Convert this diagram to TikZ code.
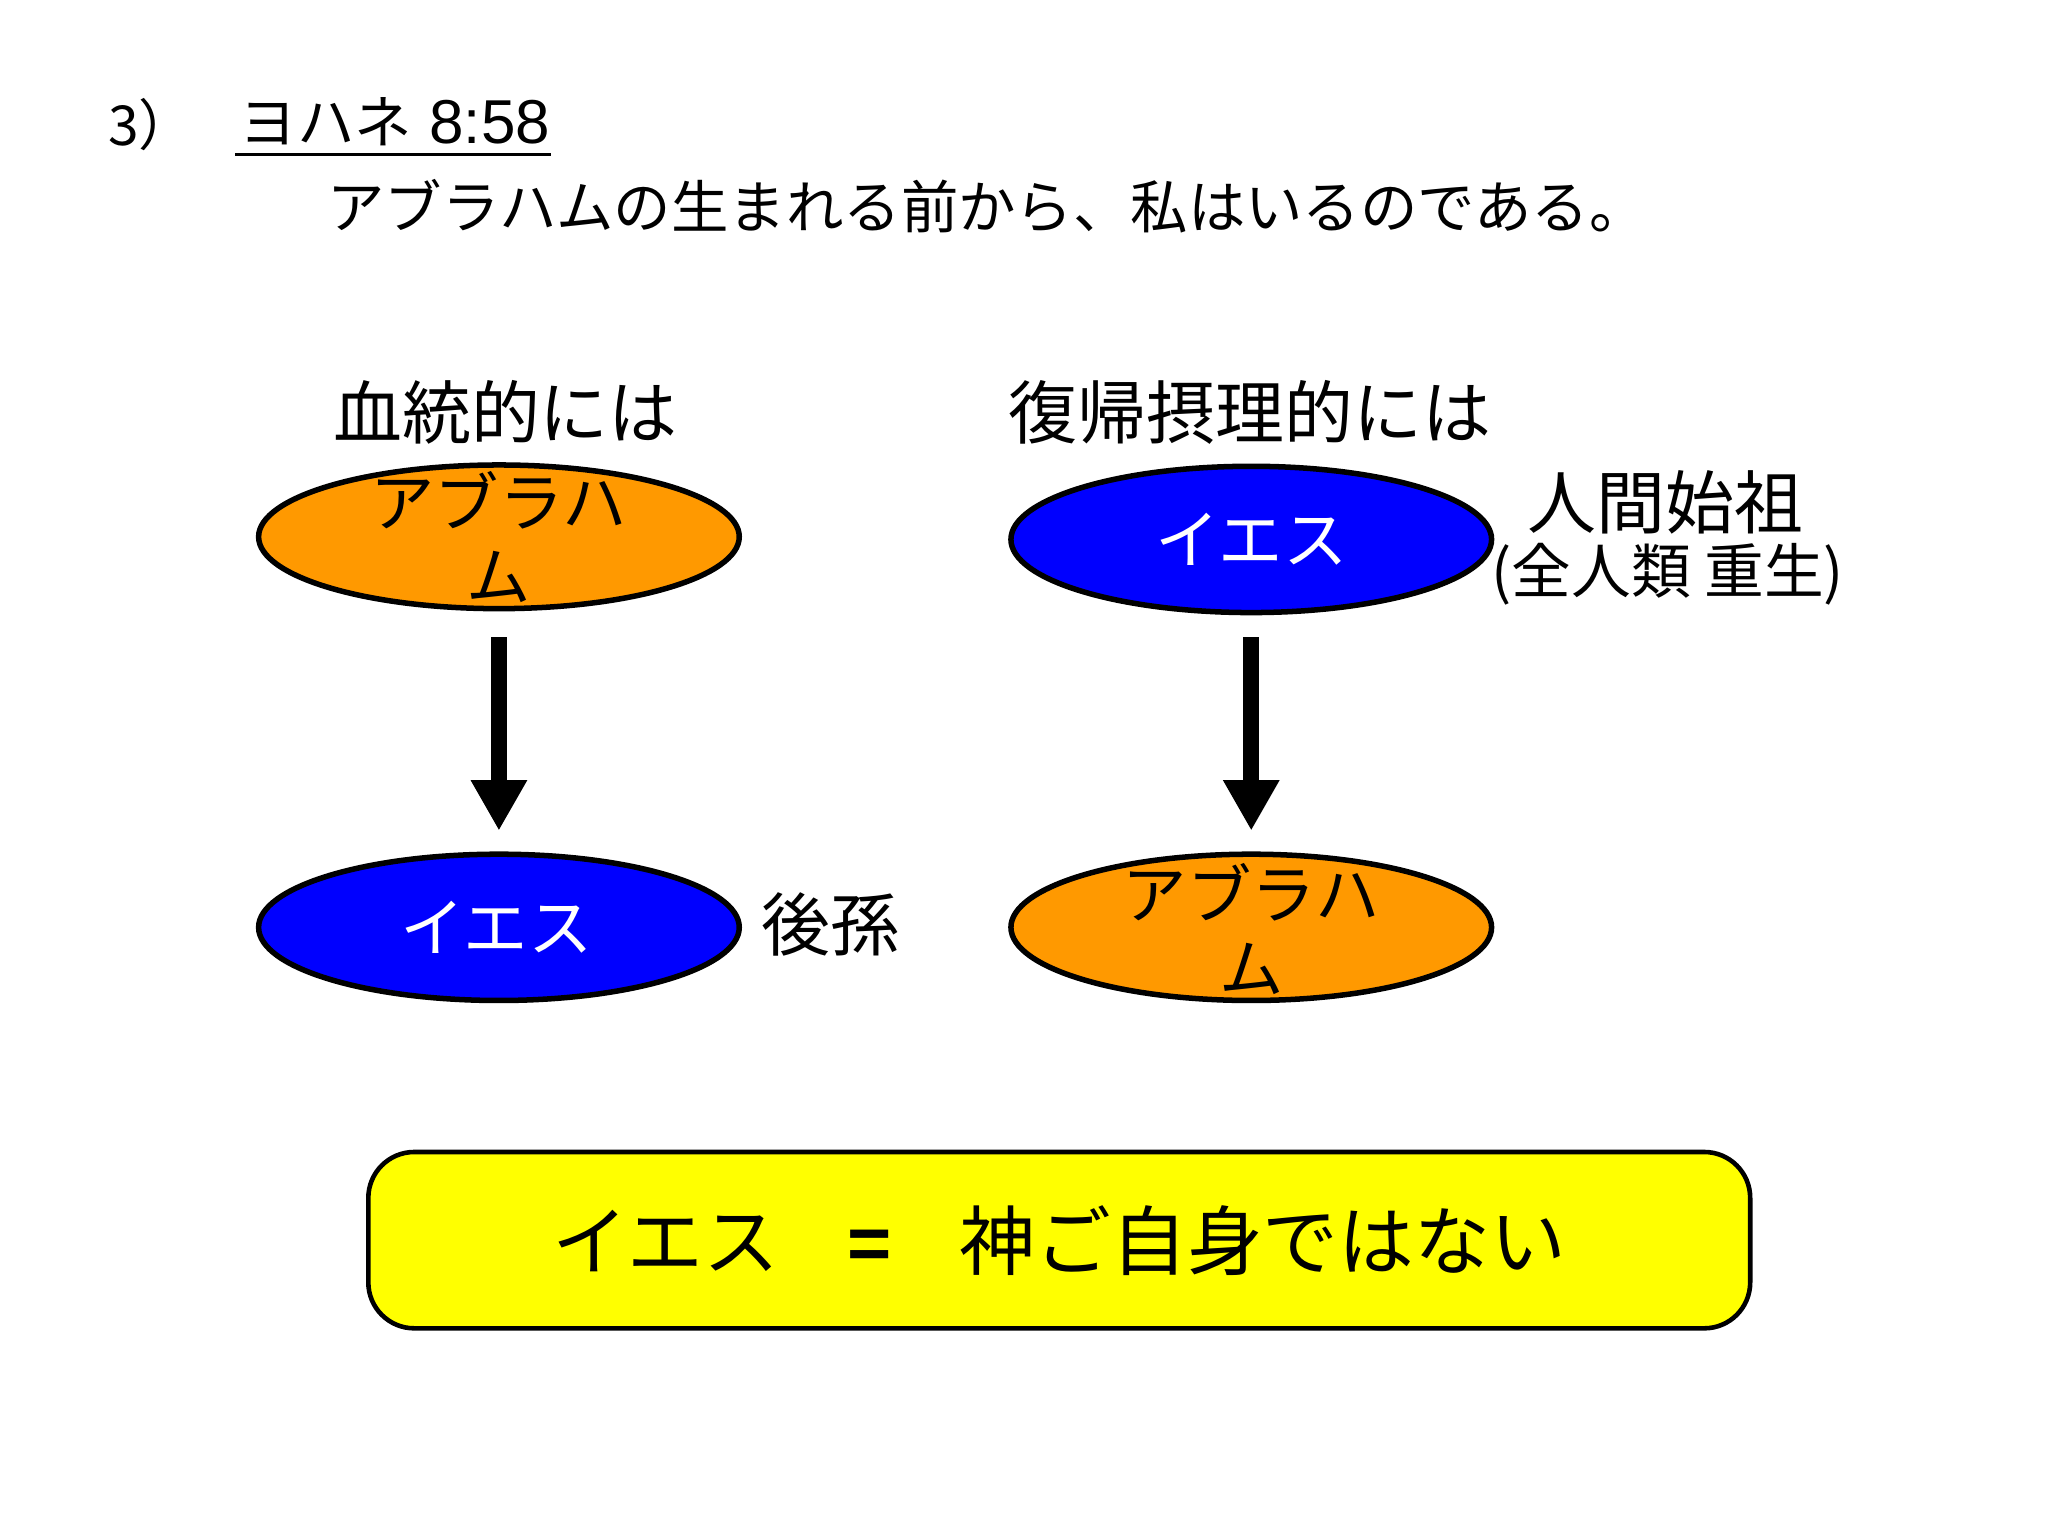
\documentclass[tikz,border=0pt]{standalone}
\usepackage{fontspec}
\setmainfont{Liberation Sans}
\newfontfamily\jp{Noto Sans CJK JP}
\usetikzlibrary{arrows.meta}
\begin{document}
\begin{tikzpicture}[x=0.01cm,y=-0.01cm,
  orangeell/.style={draw=black,line width=1.2pt,fill=orange1},
  blueell/.style={draw=black,line width=1.2pt,fill=blue1},
  bigarrow/.style={line width=3.4pt,-{Triangle[width=11.5pt,length=11pt]}},
  lbl/.style={font=\jp\fontsize{15}{16}\selectfont,inner sep=0pt},
  elltext/.style={font=\jp\fontsize{14}{15}\selectfont,inner sep=0pt}]
\definecolor{orange1}{HTML}{FF9900}
\definecolor{blue1}{HTML}{0000FF}
\definecolor{yellow1}{HTML}{FFFF00}
\useasboundingbox (0,0) rectangle (1568,1176);
% header
\node[anchor=west,font=\jp\fontsize{12}{13}\selectfont,inner sep=0pt] (num) at (82,95) {3）};
\node[anchor=west,font=\jp\fontsize{12.5}{13}\selectfont,inner sep=0pt] (ref) at (183,93) {ヨハネ\hspace{0.3em}{\fontspec{Liberation Sans}\fontsize{13.5}{14}\selectfont 8:58}};
\draw[line width=0.6pt] (ref.south west) ++(-3,6) coordinate (u1) -- (u1 -| ref.south east);
\node[anchor=west,font=\jp\fontsize{12.5}{13}\selectfont,inner sep=0pt] (sub) at (250,158) {アブラハムの生まれる前から、私はいるのである。};
% headings
\node[lbl] (h1) at (387,316) {血統的には};
\node[lbl] (h2) at (957,316) {復帰摂理的には};
% ellipses
\draw[orangeell] (382,411) ellipse [x radius=184,y radius=55];
\node[elltext] (t1a) at (382,383) {アブラハ};
\node[elltext] (t1b) at (382,442) {ム};
\draw[blueell] (958,413) ellipse [x radius=184,y radius=56];
\node[elltext,text=white] (t2) at (958,413) {イエス};
\draw[blueell] (382,710) ellipse [x radius=184,y radius=56];
\node[elltext,text=white] (t3) at (380,710) {イエス};
\draw[orangeell] (958,710) ellipse [x radius=184,y radius=56];
\node[elltext] (t4a) at (958,683) {アブラハ};
\node[elltext] (t4b) at (958,742) {ム};
% side labels
\node[lbl] (s1) at (1275,385) {人間始祖};
\node[font=\jp\fontsize{13}{14}\selectfont,inner sep=0pt] (s2) at (1277,440) {(全人類 重生)};
\node[lbl] (s3) at (636,708) {後孫};
% arrows
\coordinate (a1s) at (382,488); \coordinate (a1e) at (382,636);
\coordinate (a2s) at (958,488); \coordinate (a2e) at (958,636);
\draw[bigarrow] (a1s) -- (a1e);
\draw[bigarrow] (a2s) -- (a2e);
% bottom box
\draw[fill=yellow1,draw=black,line width=1pt,rounded corners=10] (282,882) rectangle (1340,1017);
\node[font=\jp\fontsize{16.5}{17}\selectfont,inner sep=0pt] (concl) at (811,950) {イエス\hspace{0.9em}{\fontspec{Liberation Sans}\bfseries =}\hspace{0.9em}神ご自身ではない};
\end{tikzpicture}
\end{document}
